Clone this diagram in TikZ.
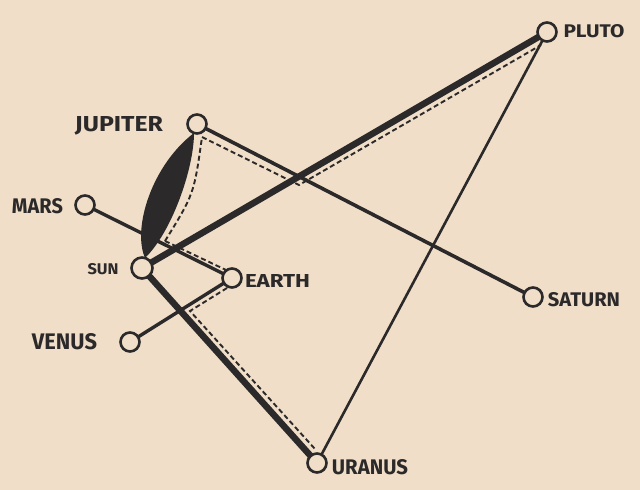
\documentclass[tikz,border=0pt]{standalone}
\usepackage{fontspec}
\setmainfont{Fira Sans}
\usepackage{graphicx}
\definecolor{paper}{HTML}{F0DEC8}
\definecolor{ink}{HTML}{2B2929}
\newcommand\planetlabel[3]{\resizebox{#2pt}{#3pt}{\bfseries #1}}
\begin{document}
\begin{tikzpicture}[x=1pt,y=-1pt,
  planet/.style={circle,draw=ink,fill=paper,line width=2.6pt,minimum size=19pt,inner sep=0pt},
  lbl/.style={text=ink,inner sep=0pt,anchor=center},
  orbit/.style={draw=ink,line width=3.4pt},
  heavy/.style={draw=ink,line width=6.5pt},
  thin/.style={draw=ink,line width=2.6pt},
  trail/.style={draw=ink,line width=1.9pt,dash pattern=on 5pt off 3pt}]
\fill[paper] (0,0) rectangle (640,490);
\useasboundingbox (0,0) rectangle (640,490);
% planets (positions)
\coordinate (cPluto) at (547,32);
\coordinate (cJupiter) at (197,124);
\coordinate (cMars) at (85,205);
\coordinate (cSun) at (142,268);
\coordinate (cEarth) at (232,278);
\coordinate (cVenus) at (130,342);
\coordinate (cSaturn) at (533,297);
\coordinate (cUranus) at (317,463);
% lens between Sun and Jupiter
\coordinate (lensS) at (145,258);
\coordinate (lensJ) at (194,133);
\fill[ink] (lensS) .. controls (132,228) and (152,165) .. (lensJ)
   .. controls (194,168) and (172,232) .. (lensS);
% connectors
\draw[orbit] (cMars) -- (cEarth);
\draw[orbit] (cVenus) -- (cEarth);
\draw[orbit,line width=3.6pt] (cJupiter) -- (cSaturn);
\draw[thin] (cPluto) -- (cUranus);
\draw[heavy] (cSun) -- (cPluto);
\draw[heavy] (cSun) -- (cUranus);
% dashed trails
\coordinate (D0) at (165,241);
\coordinate (Jc) at (194,194);
\coordinate (J1) at (202,137);
\coordinate (X1) at (299,185);
\coordinate (P1) at (541,45);
\coordinate (E1) at (226,270);
\coordinate (E2) at (227,288);
\coordinate (X2) at (190,311);
\coordinate (U1) at (315,449);
\draw[trail] (D0) .. controls (Jc) .. (J1) -- (X1) -- (P1);
\draw[trail] (D0) -- (E1);
\draw[trail] (E2) -- (X2) -- (U1);
% planet circles
\node[planet] (Pluto) at (cPluto) {};
\node[planet] (Jupiter) at (cJupiter) {};
\node[planet] (Mars) at (cMars) {};
\node[planet,minimum size=21pt] (Sun) at (cSun) {};
\node[planet] (Earth) at (cEarth) {};
\node[planet] (Venus) at (cVenus) {};
\node[planet] (Saturn) at (cSaturn) {};
\node[planet] (Uranus) at (cUranus) {};
% labels
\node[lbl] (lPluto) at (594,31.5) {\planetlabel{PLUTO}{61}{13}};
\node[lbl] (lJupiter) at (119,126) {\planetlabel{JUPITER}{88}{15}};
\node[lbl] (lMars) at (37.5,206.5) {\planetlabel{MARS}{51}{15}};
\node[lbl] (lSun) at (103,269) {\planetlabel{SUN}{31}{11}};
\node[lbl] (lEarth) at (277.5,281) {\planetlabel{EARTH}{65}{13}};
\node[lbl] (lVenus) at (64.5,341.5) {\planetlabel{VENUS}{65}{16}};
\node[lbl] (lSaturn) at (584,299.5) {\planetlabel{SATURN}{72}{14}};
\node[lbl] (lUranus) at (370,467) {\planetlabel{URANUS}{76}{15}};
\end{tikzpicture}
\end{document}
